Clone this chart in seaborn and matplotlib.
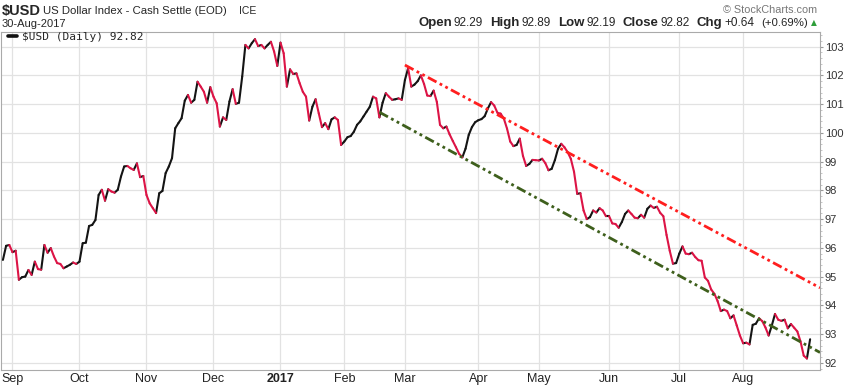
import matplotlib
matplotlib.use("Agg")
import matplotlib.pyplot as plt
from matplotlib import font_manager
from matplotlib.lines import Line2D
from matplotlib.ticker import MultipleLocator, FixedLocator
import numpy as np
import pandas as pd
import seaborn as sns

# daily closes, one list per month
close_aug16 = [95.58, 96.07, 96.10]
close_sep16 = [95.85, 95.90, 94.89, 94.98, 95.00, 95.23, 95.06, 95.52, 95.26, 95.24,
               96.10, 95.83, 95.99, 95.70, 95.47, 95.44, 95.29, 95.35, 95.41, 95.49, 95.44]
close_oct16 = [95.52, 96.16, 96.18, 96.76, 96.80, 96.97, 97.84, 98.02, 97.64, 98.04,
               97.96, 97.92, 98.02, 98.48, 98.83, 98.85, 98.77, 98.71, 98.94, 98.46, 98.50]
close_nov16 = [97.84, 97.55, 97.38, 97.21, 97.90, 97.98, 98.60, 98.83, 99.12, 100.16,
               100.34, 100.51, 101.12, 101.32, 101.05, 101.15, 101.78, 101.61, 101.43, 101.05, 101.59]
close_dec16 = [101.26, 101.03, 100.22, 100.54, 100.45, 101.09, 101.52, 101.01, 101.05, 101.96,
               103.06, 102.94, 103.12, 103.26, 103.02, 103.06, 102.94, 103.06, 103.17, 102.83, 102.33]
close_jan17 = [103.14, 102.77, 101.61, 102.21, 102.05, 102.07, 101.73, 101.43, 101.26, 100.43,
               100.91, 101.17, 100.68, 100.20, 100.34, 100.13, 100.47, 100.54, 100.45, 99.58]
close_feb17 = [99.70, 99.85, 99.89, 100.04, 100.28, 100.40, 100.57, 100.74, 100.91, 101.26,
               101.20, 100.54, 101.05, 101.38, 101.26, 101.15, 101.17, 101.20, 101.15]
close_mar17 = [101.84, 102.25, 101.61, 101.68, 101.80, 102.00, 101.70, 101.30, 101.28, 101.47,
               101.08, 100.28, 100.16, 100.22, 99.95, 99.72, 99.50, 99.27, 99.15, 99.45,
               99.93, 100.20, 100.37]
close_apr17 = [100.44, 100.48, 100.58, 100.85, 101.07, 100.95, 100.70, 100.67, 100.50, 100.15,
               99.70, 99.54, 99.58, 99.80, 99.20, 98.85, 98.92, 99.06, 99.05]
close_may17 = [99.04, 99.10, 98.95, 98.70, 98.75, 99.05, 99.45, 99.62, 99.50, 99.33,
               99.10, 98.65, 97.88, 97.90, 97.30, 97.00, 97.07, 97.30, 97.23, 97.38, 97.30, 97.10]
close_jun17 = [97.10, 96.85, 96.83, 96.70, 96.90, 97.18, 97.30, 97.18, 97.05, 97.03,
               97.15, 97.05, 97.36, 97.47, 97.39, 97.43, 97.22, 97.10, 96.45, 95.90, 95.45, 95.47]
close_jul17 = [95.80, 96.05, 95.80, 95.78, 95.83, 95.68, 95.57, 95.55, 94.97, 94.85,
               94.55, 94.40, 94.15, 93.80, 93.85, 93.80, 93.55, 93.65, 93.30, 92.95]
close_aug17 = [92.68, 92.70, 92.64, 93.32, 93.36, 93.55, 93.45, 93.23, 92.95, 93.30,
               93.70, 93.50, 93.46, 93.50, 93.20, 93.35, 93.22, 93.09, 92.74, 92.25, 92.15, 92.82]

holidays = ["2016-09-05", "2016-11-24", "2016-12-26", "2017-01-02", "2017-01-16",
            "2017-02-20", "2017-04-14", "2017-05-29", "2017-07-04"]
month_labels = ["Sep", "Oct", "Nov", "Dec", "2017", "Feb", "Mar", "Apr", "May", "Jun", "Jul", "Aug"]
y_ticks = list(range(92, 104))

# dash-dot-dot trend lines: start date, value at start and at the right edge
red_trend_start = "2017-03-01"
red_trend_values = [102.36, 94.61]
green_trend_start = "2017-02-16"
green_trend_values = [100.72, 92.36]

stat_names = ["Open", "High", "Low", "Close", "Chg"]
stat_values = ["92.29", "92.89", "92.19", "92.82", "+0.64"]

close = (close_aug16 + close_sep16 + close_oct16 + close_nov16 + close_dec16 + close_jan17
         + close_feb17 + close_mar17 + close_apr17 + close_may17 + close_jun17 + close_jul17
         + close_aug17)
dates = pd.bdate_range("2016-08-29", "2017-08-30")
dates = dates[~dates.isin(pd.to_datetime(holidays))]
n = len(close)
assert n == len(dates)
pos = np.arange(n)

W, H = 844, 385
sns.set_style("white")
installed = {f.name for f in font_manager.fontManager.ttflist}
narrow = "Liberation Sans Narrow" if "Liberation Sans Narrow" in installed else "Liberation Sans"
plt.rcParams["font.family"] = ["Liberation Sans", "DejaVu Sans"]

fig = plt.figure(figsize=(W / 100, H / 100), dpi=100)
ax = fig.add_axes([1 / W, 15 / H, 819 / W, 338 / H])

# price line, black on up days and crimson on down days
rows = []
for k in range(n - 1):
    d = "up" if close[k + 1] >= close[k] else "down"
    rows.append((k, pos[k], close[k], d))
    rows.append((k, pos[k + 1], close[k + 1], d))
seg = pd.DataFrame(rows, columns=["seg", "pos", "close", "dir"])
sns.lineplot(data=seg, x="pos", y="close", hue="dir", units="seg", estimator=None,
             palette={"up": "#141414", "down": "#dc1446"}, linewidth=1.5,
             legend=False, ax=ax, solid_capstyle="round", solid_joinstyle="round", zorder=3)

x_right = n - 1 + 3.1
dashdotdot = (0, (3.5, 1.3, 1.0, 1.3, 1.0, 1.3))
for start, vals, col in [(red_trend_start, red_trend_values, "#ff1e1e"),
                         (green_trend_start, green_trend_values, "#3e5f1c")]:
    p0 = dates.get_loc(pd.Timestamp(start))
    tl = pd.DataFrame({"pos": [p0, x_right], "value": vals})
    sns.lineplot(data=tl, x="pos", y="value", color=col, linewidth=2.0,
                 linestyle=dashdotdot, ax=ax, zorder=4)

ax.set_xlim(-0.6, x_right)
ax.set_ylim(91.75, 103.51)

# month gridlines on the first trading day of each month
month_pos = [i for i in range(1, n) if dates[i].month != dates[i - 1].month]
ax.xaxis.set_major_locator(FixedLocator(month_pos))
ax.set_xticklabels(month_labels)
for lab in ax.get_xticklabels():
    lab.set_fontfamily(narrow)
    lab.set_fontsize(9)
    lab.set_color("#222222")
    if lab.get_text() == "2017":
        lab.set_fontweight("bold")
ax.tick_params(axis="x", length=0, pad=2)

ax.yaxis.tick_right()
ax.set_yticks(y_ticks)
ax.yaxis.set_minor_locator(MultipleLocator(0.2))
ax.tick_params(axis="y", which="major", length=2, color="#999999", labelsize=8,
               labelcolor="#333333", pad=1.5)
ax.tick_params(axis="y", which="minor", length=1.5, color="#bbbbbb", right=True)
ax.grid(True, which="major", color="#e2e2e2", linewidth=0.9, zorder=0)
ax.set_axisbelow(True)
ax.set_xlabel("")
ax.set_ylabel("")
for s in ax.spines.values():
    s.set_color("#aaaaaa")
    s.set_linewidth(0.8)

# legend row inside the plot
ax.legend(handles=[Line2D([], [], color="#111111", linewidth=2.6)],
          labels=["$USD (Daily) 92.82"], loc="upper left", bbox_to_anchor=(0.0, 1.02),
          frameon=False, handlelength=0.8, handletextpad=0.5, borderaxespad=0.2,
          prop={"family": "DejaVu Sans Mono", "size": 8})

# header
def fy(y):
    return 1 - y / H

fig.text(2 / W, fy(11), "$USD", fontsize=10.5, fontweight="bold", va="center")
fig.text(43 / W, fy(11), "US Dollar Index - Cash Settle (EOD)", fontsize=8.2, va="center")
fig.text(239 / W, fy(11), "ICE", fontsize=7.5, va="center")
fig.text(2 / W, fy(24), "30-Aug-2017", fontsize=8, va="center")
fig.text(817 / W, fy(10), "\u00a9 StockCharts.com", fontsize=7.8, color="#777777",
         va="center", ha="right")

pieces = []
for name, val in zip(stat_names, stat_values):
    pieces.append((name, dict(fontsize=9.5, fontweight="bold"), 2))
    pieces.append((val, dict(fontsize=8.5), 7))
pieces.append(("(+0.69%)", dict(fontsize=8.2), 3))
pieces.append(("\u25b2", dict(fontsize=5.5, color="#2e9e3a", family="DejaVu Sans"), 0))
renderer = fig.canvas.get_renderer()
texts = []
total = 0
for txt, kw, gap in pieces:
    t = fig.text(0, fy(23), txt, va="center", ha="left", **kw)
    w = t.get_window_extent(renderer).width
    texts.append((t, w, gap))
    total += w + gap
x = 817 - total
for t, w, gap in texts:
    t.set_x(x / W)
    x += w + gap

fig.savefig("out.png", dpi=100)
